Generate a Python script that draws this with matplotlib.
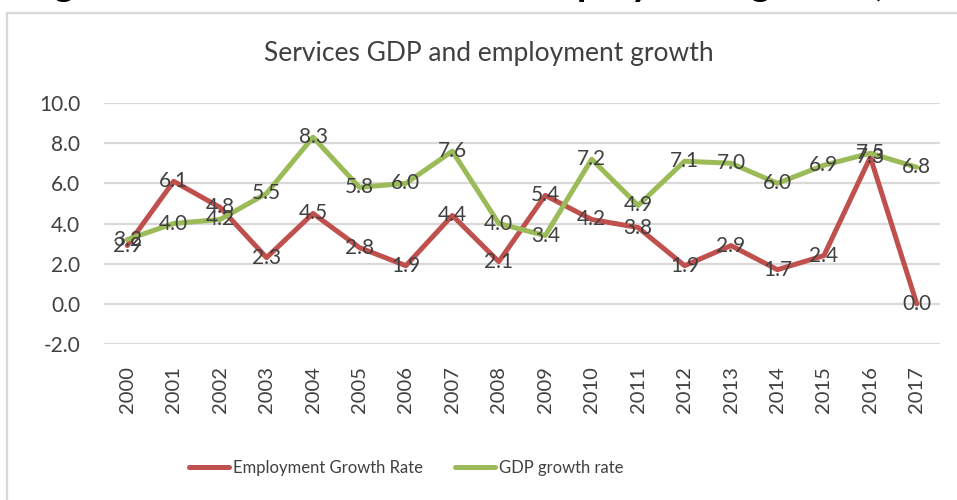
import matplotlib.pyplot as plt
from matplotlib.patches import Rectangle

plt.rcParams['font.family'] = ['Lato', 'DejaVu Sans']

years = [str(y) for y in range(2000, 2018)]
employment = [2.9, 6.1, 4.8, 2.3, 4.5, 2.8, 1.9, 4.4, 2.1, 5.4, 4.2, 3.8, 1.9, 2.9, 1.7, 2.4, 7.3, 0.0]
gdp = [3.2, 4.0, 4.2, 5.5, 8.3, 5.8, 6.0, 7.6, 4.0, 3.4, 7.2, 4.9, 7.1, 7.0, 6.0, 6.9, 7.5, 6.8]
yticks = [-2.0, 0.0, 2.0, 4.0, 6.0, 8.0, 10.0]

red = '#C0504D'
green = '#9BBB59'
txt = '#404040'

W, H = 957, 500
fig = plt.figure(figsize=(W / 100, H / 100), dpi=100)

# chart frame (runs off the right and bottom edges)
fig.patches.append(Rectangle((7 / W, -0.1), 1.2, 1 - 13 / H + 0.1, transform=fig.transFigure,
                             fill=False, edgecolor='#D9D9D9', lw=1.6))

# caption from the page above, only its descenders fall inside
fig.text(22 / W, 1 + 4 / H, 'Figure 11: Services GDP and employment growth, 2000-2017',
         fontsize=28, fontweight='bold', color='black', va='baseline', ha='left')

ax = fig.add_axes([104 / W, (H - 344) / H, 836 / W, 241 / H])
x = list(range(len(years)))
ax.plot(x, employment, color=red, lw=3.6, label='Employment Growth Rate', solid_capstyle='round', solid_joinstyle='round')
ax.plot(x, gdp, color=green, lw=3.6, label='GDP growth rate', solid_capstyle='round', solid_joinstyle='round')

for i in x:
    ax.text(i, employment[i], f'{employment[i]:.1f}', ha='center', va='center', fontsize=15, color=txt)
    ax.text(i, gdp[i], f'{gdp[i]:.1f}', ha='center', va='center', fontsize=15, color=txt)

ax.set_xlim(-0.5, len(years) - 0.5)
ax.set_ylim(-2, 10)
ax.set_yticks(yticks)
ax.set_yticklabels([f'{v:.1f}' for v in yticks])
ax.set_xticks(x)
ax.set_xticklabels(years, rotation=90)
ax.tick_params(axis='y', length=0, pad=17, labelsize=15, labelcolor=txt)
ax.tick_params(axis='x', length=0, pad=16, labelsize=14.5, labelcolor=txt)
ax.grid(axis='y', color='#D9D9D9', lw=1.6)
ax.set_axisbelow(True)
for s in ax.spines.values():
    s.set_visible(False)

fig.text(489 / W, 1 - 53 / H, 'Services GDP and employment growth', ha='center', va='center',
         fontsize=19, color=txt)

fig.legend(loc='center', bbox_to_anchor=(406 / W, 1 - 468 / H), ncol=2, frameon=False,
           fontsize=12, handlelength=2.4, columnspacing=1.9, handletextpad=0.25,
           labelcolor=txt)

fig.savefig('out.png', dpi=100)
